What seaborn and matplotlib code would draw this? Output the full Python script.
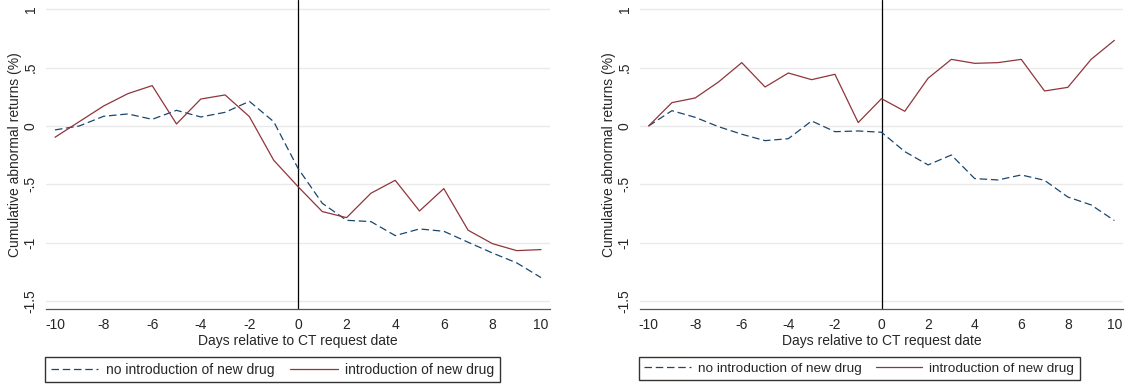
import numpy as np
import pandas as pd
import matplotlib
matplotlib.use("Agg")
import matplotlib.pyplot as plt
import seaborn as sns

days = list(range(-10, 11))

# left panel
left_no_new = [-0.034, 0.0, 0.083, 0.103, 0.057, 0.134, 0.077, 0.117, 0.211, 0.037, -0.363,
               -0.663, -0.809, -0.82, -0.94, -0.883, -0.903, -0.997, -1.089, -1.174, -1.3]
left_new = [-0.097, 0.037, 0.171, 0.277, 0.346, 0.017, 0.231, 0.266, 0.08, -0.294, -0.52,
            -0.734, -0.786, -0.577, -0.466, -0.729, -0.537, -0.894, -1.009, -1.069, -1.06]

# right panel
right_no_new = [0.0, 0.131, 0.074, -0.006, -0.071, -0.126, -0.109, 0.043, -0.049, -0.043, -0.054,
                -0.22, -0.334, -0.249, -0.451, -0.463, -0.42, -0.466, -0.609, -0.677, -0.811]
right_new = [0.0, 0.2, 0.24, 0.377, 0.543, 0.334, 0.454, 0.397, 0.443, 0.029, 0.234,
             0.126, 0.409, 0.571, 0.537, 0.543, 0.571, 0.3, 0.331, 0.571, 0.734]

groups = ["no introduction of new drug", "introduction of new drug"]
yticks = [1, 0.5, 0, -0.5, -1, -1.5]
ytick_labels = ["1", ".5", "0", "-.5", "-1", "-1.5"]
xticks = list(range(-10, 11, 2))

sns.set_style("white")
plt.rcParams["font.family"] = ["Liberation Sans", "DejaVu Sans"]
FS = 10

W, H = 1145, 388
fig = plt.figure(figsize=(W / 100, H / 100), dpi=100)
ax1 = fig.add_axes([46 / W, 1 - 309.3 / H, 504 / W, 309.3 / H])
ax2 = fig.add_axes([640 / W, 1 - 309.3 / H, 483 / W, 309.3 / H])

palette = {groups[0]: "#1a476f", groups[1]: "#90353b"}

for ax, a, b, legx, legfs, colsp in [(ax1, left_no_new, left_new, 45, 10, 1.1),
                                     (ax2, right_no_new, right_new, 639, 9.7, 1.0)]:
    df = pd.DataFrame({
        "day": days * 2,
        "car": a + b,
        "group": [groups[0]] * len(days) + [groups[1]] * len(days),
    })
    for y in yticks:
        ax.axhline(y, color="#eaeaea", lw=1.0, zorder=0)
    ax.axvline(0, color="black", lw=0.9, zorder=1)
    sns.lineplot(data=df, x="day", y="car", hue="group", style="group",
                 palette=palette, dashes={groups[0]: (6, 3), groups[1]: ""},
                 linewidth=0.9, ax=ax, legend=False, zorder=3)
    ax.set_xlim(-10.37, 10.37)
    ax.set_ylim(-1.572, 1.08)
    ax.set_xticks(xticks)
    ax.set_xticklabels([str(t) for t in xticks], fontsize=FS)
    ax.set_yticks(yticks)
    ax.set_yticklabels(ytick_labels, rotation=90, va="center", fontsize=FS)
    ax.tick_params(axis="x", length=4, width=0.8, color="#555555", pad=2.5, direction="out")
    ax.tick_params(axis="y", length=0, pad=6)
    for s in ["top", "right", "left"]:
        ax.spines[s].set_visible(False)
    ax.spines["bottom"].set_color("#555555")
    ax.spines["bottom"].set_linewidth(0.9)
    ax.set_xlabel("Days relative to CT request date", fontsize=FS, labelpad=1.5)
    ax.set_ylabel("Cumulative abnormal returns (%)", fontsize=FS, labelpad=1)

    handles = [plt.Line2D([], [], color=palette[groups[0]], lw=0.9, dashes=(6, 3)),
               plt.Line2D([], [], color=palette[groups[1]], lw=0.9)]
    fig.legend(handles, groups, loc="upper left",
               bbox_to_anchor=(legx / W, 1 - 357 / H),
               ncol=2, fontsize=legfs, frameon=True, fancybox=False,
               edgecolor="black", handlelength=3.45, handletextpad=0.55,
               columnspacing=colsp, borderpad=0.4, borderaxespad=0)

fig.savefig("out.png", dpi=100)
